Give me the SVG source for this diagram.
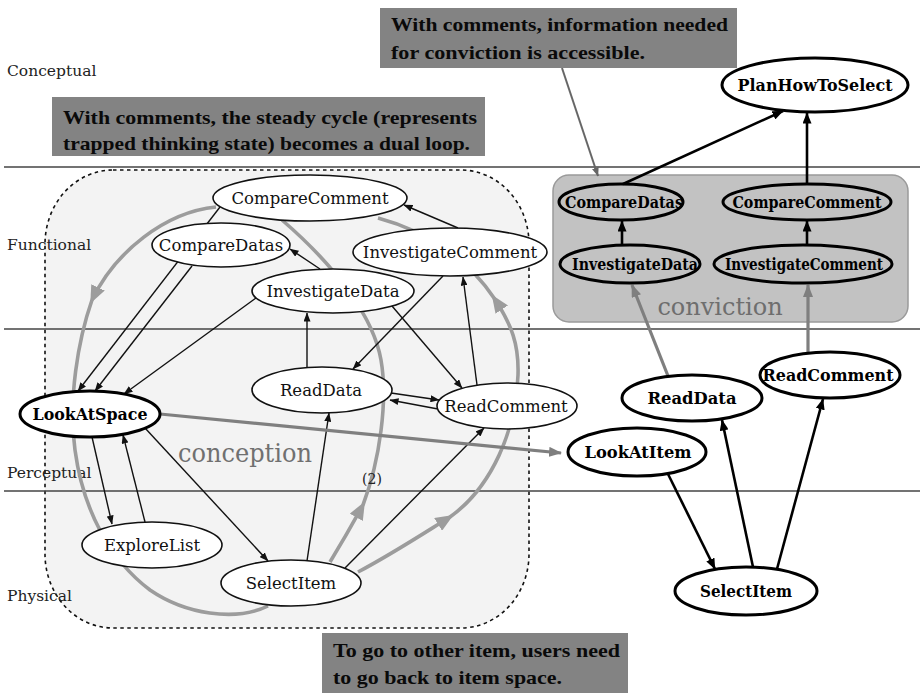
<svg xmlns="http://www.w3.org/2000/svg" width="920" height="693" viewBox="0 0 920 693">
  <style>
    .lane { stroke: #444; stroke-width: 1.6; }
    .lanelbl { font-family: "DejaVu Serif", "Liberation Serif", serif; font-size: 15.5px; fill: #222; }
    .nd { fill: #fff; stroke: #111; stroke-width: 1.6; }
    .ndb { fill: #fff; stroke: #000; stroke-width: 3; }
    .ndg { fill: none; stroke: #000; stroke-width: 3; }
    .t { font-family: "DejaVu Serif", "Liberation Serif", serif; font-size: 16.5px; fill: #111; text-anchor: middle; }
    .tb { font-family: "DejaVu Serif", "Liberation Serif", serif; font-size: 16px; font-weight: bold; fill: #000; text-anchor: middle; }
    .e { stroke: #111; stroke-width: 1.4; fill: none; marker-end: url(#a); }
    .eb { stroke: #000; stroke-width: 2.6; fill: none; marker-end: url(#ab); }
    .eg { stroke: #7f7f7f; stroke-width: 3.2; fill: none; marker-end: url(#ag2); }
    .loop { stroke: #9c9c9c; stroke-width: 3.6; fill: none; }
    .loopa { stroke: #9c9c9c; stroke-width: 3.6; fill: none; marker-end: url(#ag); }
    .note { fill: #838383; }
    .nt { font-family: "Liberation Serif", "DejaVu Serif", serif; font-size: 19px; font-weight: bold; fill: #0a0a0a; }
  </style>
  <defs>
    <marker id="a" markerUnits="userSpaceOnUse" markerWidth="9" markerHeight="7" refX="8.5" refY="3.5" orient="auto">
      <path d="M0,0 L9,3.5 L0,7 z" fill="#111"/>
    </marker>
    <marker id="ab" markerUnits="userSpaceOnUse" markerWidth="11" markerHeight="9" refX="10.5" refY="4.5" orient="auto">
      <path d="M0,0 L11,4.5 L0,9 z" fill="#000"/>
    </marker>
    <marker id="ag" markerUnits="userSpaceOnUse" markerWidth="18" markerHeight="15" refX="14" refY="7.5" orient="auto">
      <path d="M0,0 L18,7.5 L0,15 z" fill="#9c9c9c"/>
    </marker>
    <marker id="ag2" markerUnits="userSpaceOnUse" markerWidth="13" markerHeight="10" refX="12" refY="5" orient="auto">
      <path d="M0,0 L13,5 L0,10 z" fill="#7f7f7f"/>
    </marker>
    <marker id="ap" markerUnits="userSpaceOnUse" markerWidth="9" markerHeight="7" refX="8.5" refY="3.5" orient="auto">
      <path d="M0,0 L9,3.5 L0,7 z" fill="#666"/>
    </marker>
  </defs>

  <rect x="0" y="0" width="920" height="693" fill="#fff"/>

  <!-- conception region -->
  <g id="conception">
    <rect x="45" y="170" width="484" height="458" rx="68" ry="74" fill="#f3f3f3" stroke="#111" stroke-width="1.6" stroke-dasharray="3.5,3.5"/>
    <text x="178" y="462" font-family="DejaVu Serif, serif" font-size="26px" fill="#707070" textLength="134" lengthAdjust="spacingAndGlyphs">conception</text>
  </g>

  <!-- conviction region -->
  <g id="conviction">
    <rect x="553" y="175" width="355" height="147" rx="16" ry="16" fill="#c2c2c2" stroke="#9a9a9a" stroke-width="1.5"/>
    <text x="720" y="315" font-family="DejaVu Serif, serif" font-size="24px" fill="#6e6e6e" text-anchor="middle">conviction</text>
  </g>

  <!-- abstraction levels -->
  <g id="lanes">
    <line class="lane" x1="4" y1="167" x2="920" y2="167"/>
    <line class="lane" x1="4" y1="329" x2="920" y2="329"/>
    <line class="lane" x1="4" y1="491" x2="920" y2="491"/>
    <text class="lanelbl" x="7" y="76">Conceptual</text>
    <text class="lanelbl" x="7" y="250">Functional</text>
    <text class="lanelbl" x="7" y="478">Perceptual</text>
    <text class="lanelbl" x="7" y="601">Physical</text>
  </g>

  <!-- connectors -->
  <g id="connectors">
    <!-- dual loop -->
    <path class="loopa" d="M216,207 C165,212 115,252 92,300"/>
    <path class="loop" d="M92,300 C78,340 68,400 75,450 C83,510 110,560 150,590 C185,614 235,622 268,606"/>
    <path class="loopa" d="M330,562 C341,544 352,525 363,505"/>
    <path class="loop" d="M363,505 C380,460 388,400 381,360 C374,320 340,270 282,220"/>
    <path class="loopa" d="M358,572 C392,554 421,535 450,517"/>
    <path class="loopa" d="M450,517 C492,487 516,430 518,375 C519,345 512,325 494,298"/>
    <path class="loop" d="M494,298 C470,262 430,232 378,218"/>
    <text x="372" y="484" font-family="DejaVu Serif, serif" font-size="14px" fill="#222" text-anchor="middle">(2)</text>

    <!-- conception edges -->
    <line class="e" x1="220" y1="207" x2="78" y2="391"/>
    <line class="e" x1="192" y1="266" x2="95" y2="391"/>
    <line class="e" x1="256" y1="298" x2="124" y2="394"/>
    <line class="e" x1="320" y1="269" x2="290" y2="249"/>
    <line class="e" x1="458" y1="228" x2="404" y2="205"/>
    <line class="e" x1="307" y1="367" x2="307" y2="313"/>
    <line class="e" x1="443" y1="276" x2="353" y2="369"/>
    <line class="e" x1="392" y1="306" x2="462" y2="388"/>
    <line class="e" x1="477" y1="385" x2="463" y2="277"/>
    <line class="e" x1="391" y1="393" x2="439" y2="400"/>
    <line class="e" x1="438" y1="409" x2="390" y2="400"/>
    <line class="e" x1="92" y1="437" x2="112" y2="524"/>
    <line class="e" x1="145" y1="522" x2="123" y2="435"/>
    <line class="e" x1="145" y1="428" x2="268" y2="561"/>
    <line class="e" x1="307" y1="561" x2="329" y2="413"/>
    <line class="e" x1="345" y1="568" x2="484" y2="428"/>

    <!-- leaving the item space -->
    <line class="eg" x1="160" y1="414" x2="561" y2="453"/>

    <!-- item space edges -->
    <line class="eb" x1="668" y1="474" x2="715" y2="569"/>
    <line class="eb" x1="753" y1="567" x2="722" y2="420"/>
    <line class="eb" x1="777" y1="569" x2="823" y2="399"/>
    <line class="eb" x1="623" y1="184" x2="783" y2="111"/>
    <line class="eb" x1="807" y1="184" x2="807" y2="113"/>
    <line class="eb" x1="622" y1="245" x2="622" y2="221"/>
    <line class="eb" x1="807" y1="245" x2="807" y2="221"/>
    <line class="eg" x1="668" y1="376" x2="632" y2="285"/>
    <line class="eg" x1="808" y1="352" x2="808" y2="285"/>

    <!-- note pointer -->
    <line x1="562" y1="68" x2="598" y2="176" stroke="#666" stroke-width="2" marker-end="url(#ap)"/>
  </g>

  <!-- conception nodes -->
  <g id="n-comparecomment"><ellipse class="nd" cx="310" cy="198" rx="97" ry="23"/><text class="t" x="310" y="204">CompareComment</text></g>
  <g id="n-comparedatas"><ellipse class="nd" cx="221" cy="245" rx="69" ry="22"/><text class="t" x="221" y="251">CompareDatas</text></g>
  <g id="n-investigatecomment"><ellipse class="nd" cx="450" cy="252" rx="97" ry="24"/><text class="t" x="450" y="258">InvestigateComment</text></g>
  <g id="n-investigatedata"><ellipse class="nd" cx="333" cy="291" rx="81" ry="22"/><text class="t" x="333" y="297">InvestigateData</text></g>
  <g id="n-readdata"><ellipse class="nd" cx="322" cy="390" rx="70" ry="23"/><text class="t" x="321" y="396">ReadData</text></g>
  <g id="n-readcomment"><ellipse class="nd" cx="507" cy="406" rx="70" ry="23"/><text class="t" x="506" y="412">ReadComment</text></g>
  <g id="n-lookatspace"><ellipse class="ndb" cx="90" cy="414" rx="70" ry="23"/><text class="tb" x="90" y="420" textLength="115" lengthAdjust="spacingAndGlyphs">LookAtSpace</text></g>
  <g id="n-explorelist"><ellipse class="nd" cx="152" cy="545" rx="70" ry="23"/><text class="t" x="152" y="551">ExploreList</text></g>
  <g id="n-selectitem"><ellipse class="nd" cx="291" cy="583" rx="70" ry="23"/><text class="t" x="291" y="589">SelectItem</text></g>

  <!-- item space nodes -->
  <g id="n-planhowtoselect"><ellipse class="ndb" cx="815" cy="85" rx="93" ry="27"/><text class="tb" x="815" y="91" font-size="17px" textLength="155" lengthAdjust="spacingAndGlyphs">PlanHowToSelect</text></g>
  <g id="n-comparedatas-r"><ellipse class="ndg" cx="621" cy="202" rx="62" ry="18"/><text class="tb" x="624" y="208" textLength="118" lengthAdjust="spacingAndGlyphs">CompareDatas</text></g>
  <g id="n-comparecomment-r"><ellipse class="ndg" cx="807" cy="202" rx="84" ry="18"/><text class="tb" x="807" y="208" textLength="149" lengthAdjust="spacingAndGlyphs">CompareComment</text></g>
  <g id="n-investigatedata-r"><ellipse class="ndg" cx="630" cy="264" rx="70" ry="19"/><text class="tb" x="635" y="270" textLength="126" lengthAdjust="spacingAndGlyphs">InvestigateData</text></g>
  <g id="n-investigatecomment-r"><ellipse class="ndg" cx="803" cy="264" rx="89" ry="19"/><text class="tb" x="804" y="270" textLength="158" lengthAdjust="spacingAndGlyphs">InvestigateComment</text></g>
  <g id="n-readdata-r"><ellipse class="ndb" cx="692" cy="398" rx="70" ry="23"/><text class="tb" x="692" y="404" textLength="89" lengthAdjust="spacingAndGlyphs">ReadData</text></g>
  <g id="n-readcomment-r"><ellipse class="ndb" cx="830" cy="375" rx="70" ry="23"/><text class="tb" x="828" y="381" textLength="131" lengthAdjust="spacingAndGlyphs">ReadComment</text></g>
  <g id="n-lookatitem"><ellipse class="ndb" cx="637" cy="452" rx="69" ry="24"/><text class="tb" x="638" y="458" textLength="107" lengthAdjust="spacingAndGlyphs">LookAtItem</text></g>
  <g id="n-selectitem-r"><ellipse class="ndb" cx="746" cy="591" rx="71" ry="24"/><text class="tb" x="746" y="597" textLength="92" lengthAdjust="spacingAndGlyphs">SelectItem</text></g>

  <!-- notes -->
  <g id="note-conviction">
    <rect class="note" x="380" y="8" width="357" height="60"/>
    <text class="nt" x="391" y="31" textLength="337" lengthAdjust="spacingAndGlyphs">With comments, information needed</text>
    <text class="nt" x="391" y="59" textLength="254" lengthAdjust="spacingAndGlyphs">for conviction is accessible.</text>
  </g>
  <g id="note-loop">
    <rect class="note" x="52" y="97" width="433" height="59"/>
    <text class="nt" x="63" y="124" textLength="414" lengthAdjust="spacingAndGlyphs">With comments, the steady cycle (represents</text>
    <text class="nt" x="63" y="150" textLength="407" lengthAdjust="spacingAndGlyphs">trapped thinking state) becomes a dual loop.</text>
  </g>
  <g id="note-return">
    <rect class="note" x="322" y="633" width="306" height="60"/>
    <text class="nt" x="333" y="657" textLength="287" lengthAdjust="spacingAndGlyphs">To go to other item, users need</text>
    <text class="nt" x="333" y="684" textLength="229" lengthAdjust="spacingAndGlyphs">to go back to item space.</text>
  </g>
</svg>
